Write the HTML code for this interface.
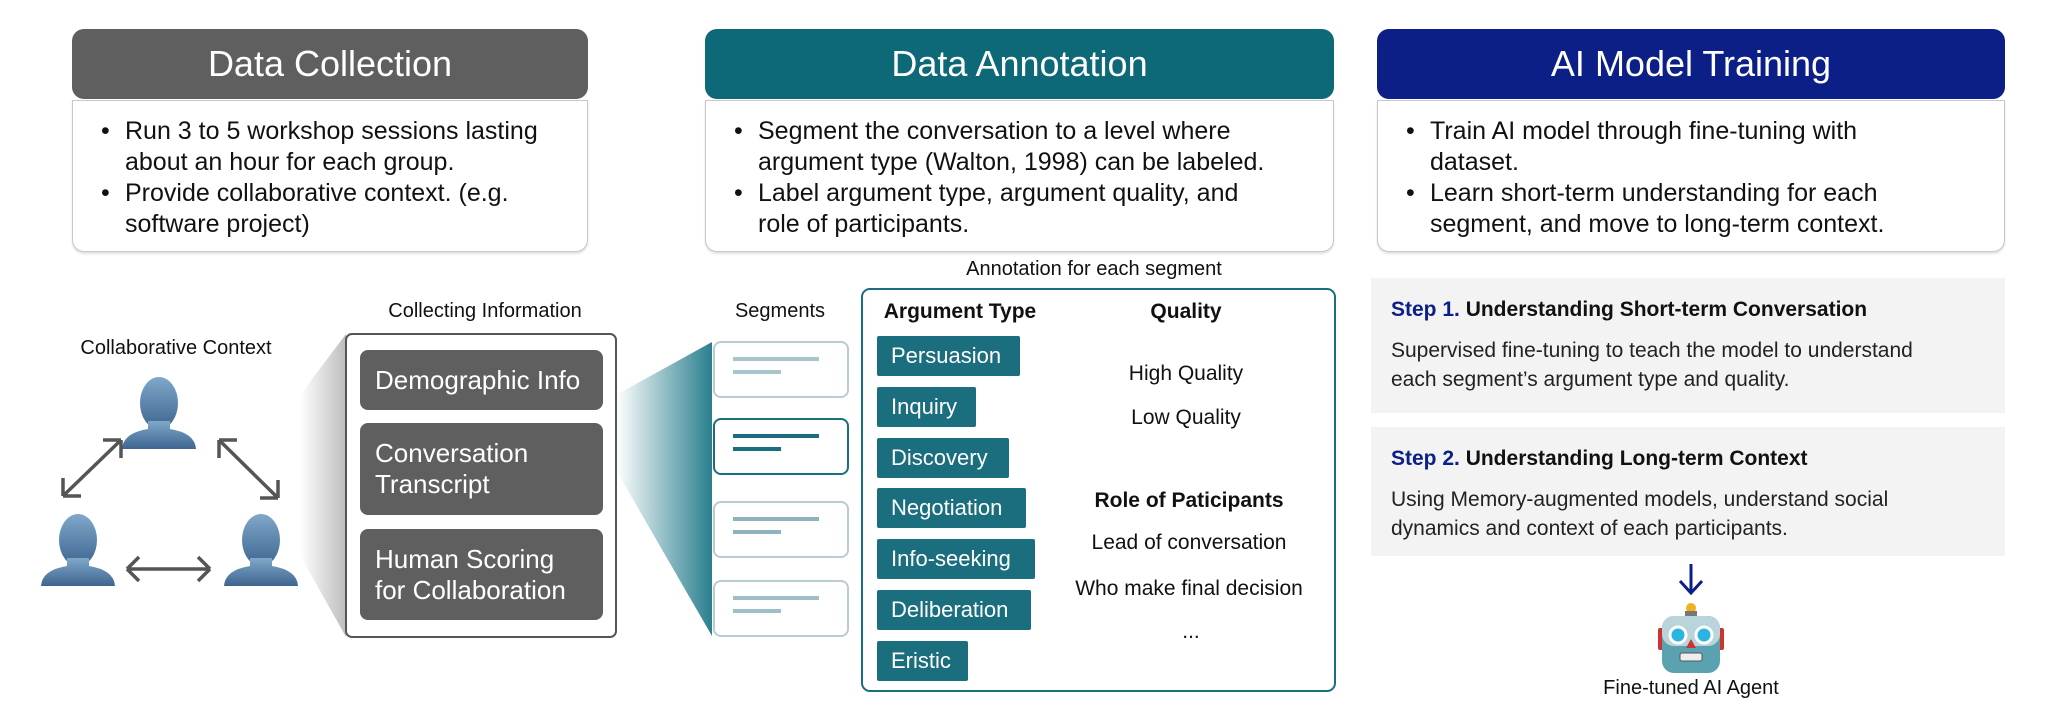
<!DOCTYPE html>
<html><head><meta charset="utf-8"><style>
*{margin:0;padding:0;box-sizing:border-box}
body{width:2048px;height:728px;background:#fff;position:relative;overflow:hidden;font-family:"Liberation Sans",sans-serif;color:#111}
.a{position:absolute}
.hdr{position:absolute;height:70px;border-radius:12px;color:#fff;font-size:36px;display:flex;align-items:center;justify-content:center}
.bx{position:absolute;top:100px;height:152px;border:1.5px solid #c8c8c8;border-radius:0 0 12px 12px;background:#fff;box-shadow:0 2px 2px rgba(0,0,0,.12);padding:15px 0 0 24px;font-size:25px;line-height:31px;white-space:nowrap}
.bx ul{list-style:none}
.bx li{position:relative;padding-left:28px}
.bx li:before{content:"•";position:absolute;left:4px}
.ib{position:absolute;left:360px;width:243px;background:#5f5f5f;color:#fff;border-radius:8px;font-size:26px;line-height:31px;padding:0 15px;display:flex;align-items:center}
.pill{position:absolute;left:877px;height:40px;background:#1a6e7e;color:#fff;font-size:22px;padding-left:14px;line-height:40px;border-radius:2px}
.c{position:absolute;text-align:center;transform:translateX(-50%);white-space:nowrap}
.seg{position:absolute;left:713px;width:136px;height:57px;border:2px solid #b8ccd2;border-radius:8px;background:#fff}
.seg i{position:absolute;left:18px;height:4px;background:#a8c4cc}
.step{position:absolute;left:1371px;width:634px;background:#f3f3f3;padding:20px 0 0 20px}
.step b{font-size:21px;display:block;margin-bottom:14px}
.step p{font-size:21px;line-height:29px;color:#222}
</style></head><body>
<div class="bx" style="left:72px;width:516px"><ul><li>Run 3 to 5 workshop sessions lasting<br>about an hour for each group.</li><li>Provide collaborative context. (e.g.<br>software project)</li></ul></div>
<div class="bx" style="left:705px;width:629px"><ul><li>Segment the conversation to a level where<br>argument type (Walton, 1998) can be labeled.</li><li>Label argument type, argument quality, and<br>role of participants.</li></ul></div>
<div class="bx" style="left:1377px;width:628px"><ul><li>Train AI model through fine-tuning with<br>dataset.</li><li>Learn short-term understanding for each<br>segment, and move to long-term context.</li></ul></div>
<div class="hdr" style="left:72px;width:516px;top:29px;background:#5f5f5f">Data Collection</div>
<div class="hdr" style="left:705px;width:629px;top:29px;background:#0d6878">Data Annotation</div>
<div class="hdr" style="left:1377px;width:628px;top:29px;background:#0b1f86">AI Model Training</div>

<svg class="a" style="left:0;top:0" width="2048" height="728">
<defs>
<linearGradient id="g1" x1="0" x2="1"><stop offset="0" stop-color="#fff"/><stop offset="1" stop-color="#bdbdbd"/></linearGradient>
<linearGradient id="g2" x1="0" x2="1"><stop offset="0" stop-color="#fff"/><stop offset="1" stop-color="#2a7f8e"/></linearGradient>
<linearGradient id="ppl" x1="0" y1="0" x2="0" y2="1"><stop offset="0" stop-color="#80a8ca"/><stop offset="1" stop-color="#3d6590"/></linearGradient>
<g id="p"><ellipse cx="0" cy="24" rx="19" ry="26" fill="url(#ppl)"/><path d="M-11 42 L-11 50 Q-36 54 -37 70 L37 70 Q36 54 11 50 L11 42Z" fill="url(#ppl)"/></g>
</defs>
<polygon points="300,395 346,334 346,637 300,555" fill="url(#g1)"/>
<polygon points="616,395 712,342 712,636 616,470" fill="url(#g2)"/>
<rect x="346" y="334" width="270" height="303" rx="6" fill="#fff" stroke="#555" stroke-width="2"/>
<use href="#p" x="159" y="379"/><use href="#p" x="78" y="516"/><use href="#p" x="261" y="516"/>
<g stroke="#555" stroke-width="3.5" fill="none">
<path d="M63 496 L121 440 M63 496 l0 -18 M63 496 l18 0 M121 440 l-18 0 M121 440 l0 18"/>
<path d="M278 498 L219 440 M278 498 l0 -18 M278 498 l-18 0 M219 440 l18 0 M219 440 l0 18"/>
<path d="M127 569 L210 569 M127 569 l12 -12 M127 569 l12 12 M210 569 l-12 -12 M210 569 l-12 12"/>
</g>
<rect x="862" y="289" width="473" height="402" rx="8" fill="none" stroke="#1a6e7e" stroke-width="2"/>
<path d="M1691 564 L1691 592 M1680 581 L1691 593 L1702 581" stroke="#0b1f86" stroke-width="3" fill="none"/>
<g transform="translate(1691,603)">
<circle cx="0" cy="5" r="5" fill="#f2b01e"/><rect x="-6" y="8" width="12" height="6" fill="#777"/>
<rect x="-33" y="25" width="6" height="22" rx="2" fill="#c33"/><rect x="27" y="25" width="6" height="22" rx="2" fill="#c33"/>
<rect x="-29" y="13" width="58" height="57" rx="12" fill="#5aa2b0"/><rect x="-29" y="13" width="58" height="30" rx="12" fill="#b9d4da"/>
<circle cx="-13" cy="32" r="8" fill="#2ab5e0" stroke="#fff" stroke-width="3"/><circle cx="13" cy="32" r="8" fill="#2ab5e0" stroke="#fff" stroke-width="3"/>
<path d="M-5 45 L0 36 L5 45Z" fill="#c33"/><rect x="-11" y="50" width="22" height="8" rx="2" fill="#eee" stroke="#555"/>
</g>
</svg>

<div class="c" style="left:176px;top:337px;font-size:20px">Collaborative Context</div>
<div class="c" style="left:485px;top:300px;font-size:20px">Collecting Information</div>
<div class="ib" style="top:350px;height:60px">Demographic Info</div>
<div class="ib" style="top:423px;height:92px">Conversation Transcript</div>
<div class="ib" style="top:529px;height:91px">Human Scoring for Collaboration</div>

<div class="c" style="left:780px;top:300px;font-size:20px">Segments</div>
<div class="seg" style="top:341px"><i style="top:14px;width:86px"></i><i style="top:27px;width:48px"></i></div>
<div class="seg" style="top:418px;border-color:#1a6e7e"><i style="top:14px;width:86px;background:#1a6e7e"></i><i style="top:27px;width:48px;background:#1a6e7e"></i></div>
<div class="seg" style="top:501px"><i style="top:14px;width:86px;background:#8fb3bd"></i><i style="top:27px;width:48px;background:#8fb3bd"></i></div>
<div class="seg" style="top:580px"><i style="top:14px;width:86px;background:#9fbfc8"></i><i style="top:27px;width:48px;background:#9fbfc8"></i></div>

<div class="c" style="left:1094px;top:258px;font-size:20px">Annotation for each segment</div>
<div class="c" style="left:960px;top:300px;font-size:21px;font-weight:bold">Argument Type</div>
<div class="c" style="left:1186px;top:300px;font-size:21px;font-weight:bold">Quality</div>
<div class="pill" style="top:336px;width:143px">Persuasion</div>
<div class="pill" style="top:387px;width:99px">Inquiry</div>
<div class="pill" style="top:438px;width:132px">Discovery</div>
<div class="pill" style="top:488px;width:149px">Negotiation</div>
<div class="pill" style="top:539px;width:158px">Info-seeking</div>
<div class="pill" style="top:590px;width:154px">Deliberation</div>
<div class="pill" style="top:641px;width:91px">Eristic</div>
<div class="c" style="left:1186px;top:362px;font-size:21px">High Quality</div>
<div class="c" style="left:1186px;top:406px;font-size:21px">Low Quality</div>
<div class="c" style="left:1189px;top:489px;font-size:21px;font-weight:bold">Role of Paticipants</div>
<div class="c" style="left:1189px;top:531px;font-size:21px">Lead of conversation</div>
<div class="c" style="left:1189px;top:577px;font-size:21px">Who make final decision</div>
<div class="c" style="left:1191px;top:620px;font-size:21px">...</div>

<div class="step" style="top:278px;height:135px"><b><span style="color:#0b1f86">Step 1.</span> Understanding Short-term Conversation</b><p>Supervised fine-tuning to teach the model to understand<br>each segment’s argument type and quality.</p></div>
<div class="step" style="top:427px;height:129px"><b><span style="color:#0b1f86">Step 2.</span> Understanding Long-term Context</b><p>Using Memory-augmented models, understand social<br>dynamics and context of each participants.</p></div>
<div class="c" style="left:1691px;top:677px;font-size:20px">Fine-tuned AI Agent</div>
</body></html>
